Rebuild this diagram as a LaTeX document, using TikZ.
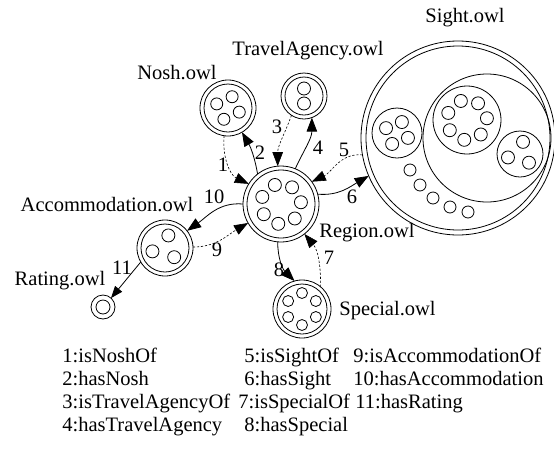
\documentclass[tikz,border=0pt]{standalone}
\usepackage{fontspec}
\setmainfont{Liberation Serif}
\usetikzlibrary{arrows.meta}
\newcommand\ringof[5]{\foreach \k in {1,...,#2}{\draw ([shift={({#3+(\k-1)*360/#2}:#4)}]#1) circle[radius=#5];}}
\begin{document}
\begin{tikzpicture}[x=1pt,y=-1pt, line width=0.8pt,
  onto/.style={circle,draw,inner sep=0pt,outer sep=0pt,minimum size=#1},
  lbl/.style={inner sep=0pt, font=\fontsize{20.5pt}{24pt}\selectfont},
  leg/.style={lbl, anchor=base west},
  sol/.style={-{Triangle[length=14pt,width=10.5pt]}},
  dsh/.style={sol, dash pattern=on 2.2pt off 1.8pt, line width=0.6pt},
]
\useasboundingbox (0,0) rectangle (554,448);
% ontology nodes
\node[onto=76pt] (reg) at (281,204) {};
\node[onto=56pt] (nosh) at (228,108) {};
\node[onto=46pt] (ta) at (304,96) {};
\node[onto=56pt] (acc) at (165,248) {};
\node[onto=24pt] (rat) at (103,307) {};
\node[onto=58pt] (spec) at (302,309) {};
\node[onto=194pt] (sight) at (458,138) {};
% inner rings
\draw (reg.center) circle[radius=34pt];
\ringof{reg.center}{7}{5}{20pt}{6.5pt}
\draw (nosh.center) circle[radius=24pt];
\ringof{nosh.center}{4}{70}{12pt}{6pt}
\draw (ta.center) circle[radius=19pt];
\draw ([yshift=7.5pt]ta.center) circle[radius=6.5pt];
\draw ([yshift=-7.5pt]ta.center) circle[radius=6.5pt];
\draw (acc.center) circle[radius=24pt];
\ringof{acc.center}{3}{75}{13pt}{6.5pt}
\draw (rat.center) circle[radius=7pt];
\draw (spec.center) circle[radius=25pt];
\ringof{spec.center}{6}{30}{16pt}{5.5pt}
% sight contents
\draw (sight.center) circle[radius=92pt];
\coordinate (sL) at (397,133);
\coordinate (sB) at (487,138);
\coordinate (sC) at (467,120);
\coordinate (sR) at (520,154);
\draw (sL) circle[radius=25pt];
\ringof{sL}{4}{66}{12pt}{6.5pt}
\draw (sB) circle[radius=64pt];
\draw (sC) circle[radius=34pt];
\ringof{sC}{7}{5}{20pt}{6.5pt}
\draw (sR) circle[radius=23pt];
\ringof{sR}{3}{76}{12.5pt}{6.5pt}
\foreach \p in {(410,170),(420,185),(433,198),(450,207),(468,212)}
  \draw \p circle[radius=6pt];
% names
\node[lbl] (tsight) at (465,18) {Sight.owl};
\node[lbl] (tta) at (308,51) {TravelAgency.owl};
\node[lbl] (tnosh) at (177,73) {Nosh.owl};
\node[lbl] (tacc) at (107,205) {Accommodation.owl};
\node[lbl] (treg) at (367,233) {Region.owl};
\node[lbl] (trat) at (60,281) {Rating.owl};
\node[lbl, anchor=west] (tspec) at (339,311) {Special.owl};
% connectors
\draw[dsh] (nosh.262) to[out=265,in=155] (reg.148);
\draw[sol] (reg.128) to[out=100,in=-60] (nosh.300);
\draw[dsh] (ta.237) to[out=250,in=90] (reg.95);
\draw[sol] (reg.68) to[out=65,in=-90] (ta.290);
\draw[dsh] (sight.190) to[out=175,in=25] (reg.36);
\draw[sol] (reg.15) to[out=-5,in=210] (sight.203);
\draw[dsh] (spec.50) to[out=90,in=-50] (reg.-52);
\draw[sol] (reg.265) to[out=270,in=135] (spec.105);
\draw[dsh] (acc.2) to[out=0,in=210] (reg.210);
\draw[sol] (reg.180) to[out=175,in=35] (acc.38);
\draw[-{Triangle[length=12pt,width=9pt]}] (acc.210) -- (rat.48);
% edge labels
\node[lbl] (l1) at (223,165) {1};
\node[lbl] (l2) at (260,153) {2};
\node[lbl] (l3) at (277,127) {3};
\node[lbl] (l4) at (318,148) {4};
\node[lbl] (l5) at (344,150) {5};
\node[lbl] (l6) at (352,197) {6};
\node[lbl] (l7) at (329,258) {7};
\node[lbl] (l8) at (279,270) {8};
\node[lbl] (l9) at (217,250) {9};
\node[lbl] (l10) at (214,197) {10};
\node[lbl] (l11) at (122,268) {11};
% legend
\node[leg] (g1) at (62,362) {1:isNoshOf};
\node[leg] (g2) at (62,385) {2:hasNosh};
\node[leg] (g3) at (62,408) {3:isTravelAgencyOf};
\node[leg] (g4) at (62,431) {4:hasTravelAgency};
\node[leg] (g5) at (244,362) {5:isSightOf};
\node[leg] (g6) at (244,385) {6:hasSight};
\node[leg] (g7) at (238,408) {7:isSpecialOf};
\node[leg] (g8) at (244,431) {8:hasSpecial};
\node[leg] (g9) at (353,362) {9:isAccommodationOf};
\node[leg] (g10) at (353,385) {10:hasAccommodation};
\node[leg] (g11) at (355,408) {11:hasRating};
\end{tikzpicture}
\end{document}
